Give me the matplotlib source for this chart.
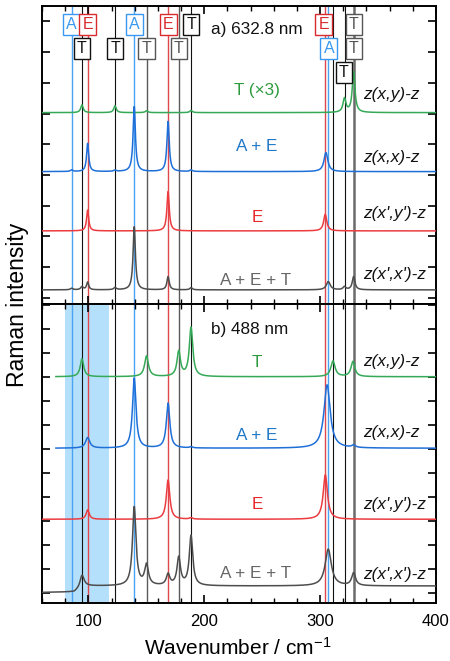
import numpy as np
import matplotlib
matplotlib.use("Agg")
import matplotlib.pyplot as plt
from matplotlib.ticker import MultipleLocator

plt.rcParams['font.family'] = ['Liberation Sans', 'DejaVu Sans']
plt.rcParams['mathtext.fontset'] = 'custom'
plt.rcParams['mathtext.rm'] = 'Liberation Sans'
plt.rcParams['mathtext.it'] = 'Liberation Sans:italic'

# ---------------- data ----------------
# mode positions (cm^-1) marked by vertical lines
line_pos = [85.6, 94.5, 99.4, 123.0, 139.6, 150.2, 168.8, 178.0, 188.6, 304.4, 307.2, 311.1, 321.2, 328.9]
line_kind = ['A', 'T', 'E', 'T', 'A', 'Tg', 'E', 'Tg', 'T', 'E', 'A', 'T', 'T', 'Tw']

# mode label boxes: position, text, row, kind
box_pos = [85.6, 99.4, 139.6, 168.8, 188.6, 303.0, 328.9, 94.5, 123.0, 150.2, 178.0, 307.6, 328.9, 320.5]
box_txt = ['A', 'E', 'A', 'E', 'T', 'E', 'T', 'T', 'T', 'T', 'T', 'A', 'T', 'T']
box_row = [0, 0, 0, 0, 0, 0, 0, 1, 1, 1, 1, 1, 1, 2]
box_kind = ['A', 'E', 'A', 'E', 'T', 'E', 'Tg', 'T', 'T', 'Tg', 'Tg', 'A', 'Tg', 'T']

# panel a) 632.8 nm : peak positions, amplitudes, half widths, baseline offsets
a_T_pos = [94.5, 123.0, 150.2, 188.6, 321.0, 328.9]
a_T_amp = [0.25, 0.22, 0.06, 0.07, 0.45, 1.33]
a_T_wid = [1.3, 1.3, 1.3, 1.3, 1.5, 1.4]
a_T_off = 6.03

a_AE_pos = [85.6, 99.4, 123.0, 139.6, 168.8, 188.6, 305.0]
a_AE_amp = [0.05, 0.92, 0.04, 2.12, 1.63, 0.05, 0.62]
a_AE_wid = [1.3, 1.1, 1.3, 1.2, 1.2, 1.3, 2.0]
a_AE_off = 4.11

a_E_pos = [99.4, 168.8, 304.4]
a_E_amp = [0.68, 1.28, 0.54]
a_E_wid = [1.1, 1.2, 1.6]
a_E_off = 2.18

a_AET_pos = [85.6, 94.5, 99.4, 123.0, 139.6, 168.8, 188.6, 307.0, 321.0, 328.9]
a_AET_amp = [0.05, 0.10, 0.25, 0.07, 2.06, 0.43, 0.07, 0.27, 0.10, 0.43]
a_AET_wid = [1.3, 1.3, 1.1, 1.3, 1.2, 1.2, 1.3, 2.0, 1.4, 1.4]
a_AET_off = 0.26

# panel b) 488 nm
b_T_pos = [94.5, 150.2, 178.0, 188.6, 311.1, 328.3]
b_T_amp = [0.74, 0.86, 1.04, 2.04, 0.65, 0.63]
b_T_wid = [1.8, 2.0, 1.8, 1.8, 2.2, 2.0]
b_T_off = 9.01

b_AE_pos = [99.4, 139.6, 168.8, 188.6, 306.0, 328.9]
b_AE_amp = [0.44, 2.92, 1.87, 0.05, 2.64, 0.10]
b_AE_wid = [2.2, 1.8, 1.8, 1.5, 3.2, 1.8]
b_AE_off = 6.03

b_E_pos = [99.4, 168.8, 188.6, 304.5]
b_E_amp = [0.39, 1.64, 0.06, 1.85]
b_E_wid = [1.6, 1.8, 1.5, 2.2]
b_E_off = 3.07

b_AET_pos = [94.5, 139.6, 150.2, 168.8, 178.0, 188.6, 307.0, 328.9]
b_AET_amp = [0.49, 3.28, 0.85, 0.46, 1.16, 2.08, 1.53, 0.53]
b_AET_wid = [2.0, 1.8, 2.0, 1.8, 1.8, 1.8, 3.2, 2.0]
b_AET_off = 0.29
b_AET_base_x = [60, 88, 96, 400]
b_AET_base_y = [-0.27, -0.25, 0.0, 0.0]

shade_range = (79.8, 117.5)

# ---------------- style ----------------
C_A = '#4aa3f2'
C_E = '#e0474c'
C_T = '#111111'
C_Tg = '#5a5a5a'
green = '#35a957'
blue = '#1f6fd8'
red = '#ec3c40'
gray = '#4d4d4d'
lc = {'A': (C_A, 1.0), 'E': (C_E, 1.0), 'T': (C_T, 0.8), 'Tg': (C_Tg, 1.0), 'Tw': ('#6a6a6a', 1.8)}
bc = {'A': '#3a98f0', 'E': '#d92a2e', 'T': '#111111', 'Tg': '#555555'}

x = np.linspace(60, 400, 2041)


def spectrum(pos, amp, wid, off):
    y = np.full_like(x, off)
    for p, a, w in zip(pos, amp, wid):
        y += a / (1.0 + ((x - p) / w) ** 2)
    return y


fig = plt.figure(figsize=(4.5, 6.61), dpi=100)
axa = fig.add_axes([42 / 450, 1 - 304 / 661, 394 / 450, 298 / 661])
axb = fig.add_axes([42 / 450, 1 - 603 / 661, 394 / 450, 299 / 661], sharex=axa)

for ax in (axa, axb):
    for p, k in zip(line_pos, line_kind):
        col, lw = lc[k]
        ax.axvline(p, color=col, lw=lw, zorder=1)
    ax.set_xlim(60, 400)
    ax.xaxis.set_major_locator(MultipleLocator(100))
    ax.xaxis.set_minor_locator(MultipleLocator(20))
    ax.yaxis.set_major_locator(MultipleLocator(1))
    ax.tick_params(axis='both', which='both', direction='in', top=True, right=True,
                   labelleft=False)
    ax.tick_params(axis='both', which='major', length=6, width=1.2)
    ax.tick_params(axis='x', which='minor', length=3.5, width=1.0)
    for s in ax.spines.values():
        s.set_linewidth(1.4)

axa.tick_params(labelbottom=False)
axb.tick_params(axis='x', labelsize=12, pad=8)

axb.axvspan(*shade_range, color='#b5e0fb', lw=0, zorder=0)

# panel a traces
axa.plot(x, spectrum(a_T_pos, a_T_amp, a_T_wid, a_T_off), color=green, lw=1.1, zorder=3)
axa.plot(x, spectrum(a_AE_pos, a_AE_amp, a_AE_wid, a_AE_off), color=blue, lw=1.1, zorder=3)
axa.plot(x, spectrum(a_E_pos, a_E_amp, a_E_wid, a_E_off), color=red, lw=1.1, zorder=3)
axa.plot(x, spectrum(a_AET_pos, a_AET_amp, a_AET_wid, a_AET_off), color=gray, lw=1.1, zorder=3)

# panel b traces
m72 = x >= 72
axb.plot(x[m72], spectrum(b_T_pos, b_T_amp, b_T_wid, b_T_off)[m72], color=green, lw=1.1, zorder=3)
axb.plot(x[m72], spectrum(b_AE_pos, b_AE_amp, b_AE_wid, b_AE_off)[m72], color=blue, lw=1.1, zorder=3)
axb.plot(x, spectrum(b_E_pos, b_E_amp, b_E_wid, b_E_off), color=red, lw=1.1, zorder=3)
axb.plot(x, spectrum(b_AET_pos, b_AET_amp, b_AET_wid, b_AET_off)
         + np.interp(x, b_AET_base_x, b_AET_base_y), color=gray, lw=1.1, zorder=3)

axa.set_ylim(-0.2, 9.5)
axb.set_ylim(-0.42, 12.04)

# mode label boxes
row_y = [0.938, 0.858, 0.777]
for p, t, r, k in zip(box_pos, box_txt, box_row, box_kind):
    col = bc[k]
    axa.text(p, row_y[r], t, transform=axa.get_xaxis_transform(), ha='center', va='center',
             fontsize=11.5, color=col, zorder=5,
             bbox=dict(boxstyle='square,pad=0.2', fc='white', ec=col, lw=1.0))

fs = 12.3
axa.text(205.7, 8.75, 'a) 632.8 nm', fontsize=fs, ha='left', va='center', color='#111111')
axa.text(245.5, 6.75, 'T (×3)', fontsize=fs, ha='center', va='center', color='#2e9a3e')
axa.text(245.5, 4.93, 'A + E', fontsize=fs, ha='center', va='center', color='#1f78c8')
axa.text(245.5, 2.63, 'E', fontsize=fs, ha='center', va='center', color='#e8272b')
axa.text(244.0, 0.55, 'A + E + T', fontsize=fs, ha='center', va='center', color='#666666')

axb.text(205.7, 10.96, 'b) 488 nm', fontsize=fs, ha='left', va='center', color='#111111')
axb.text(245.5, 9.6, 'T', fontsize=fs, ha='center', va='center', color='#2e9a3e')
axb.text(245.5, 6.55, 'A + E', fontsize=fs, ha='center', va='center', color='#1f78c8')
axb.text(245.5, 3.67, 'E', fontsize=fs, ha='center', va='center', color='#e8272b')
axb.text(244.0, 0.79, 'A + E + T', fontsize=fs, ha='center', va='center', color='#666666')

right_labels = ["z(x,y)-z", "z(x,x)-z", "z(x',y')-z", "z(x',x')-z"]
a_lab_y = [6.61, 4.58, 2.76, 0.75]
b_lab_y = [9.64, 6.68, 3.67, 0.75]
for t, ya, yb in zip(right_labels, a_lab_y, b_lab_y):
    axa.text(337.5, ya, t, fontsize=fs, style='italic', ha='left', va='center', color='#111111',
             zorder=6)
    axb.text(337.5, yb, t, fontsize=fs, style='italic', ha='left', va='center', color='#111111',
             zorder=6)

fig.text(18 / 450, 1 - 305 / 661, 'Raman intensity', rotation=90, fontsize=16.5,
         ha='center', va='center')
fig.text(238 / 450, 1 - 655 / 661, 'Wavenumber / cm$^{\\mathrm{-1}}$', fontsize=15,
         ha='center', va='baseline')

fig.savefig('out.png', dpi=100)
